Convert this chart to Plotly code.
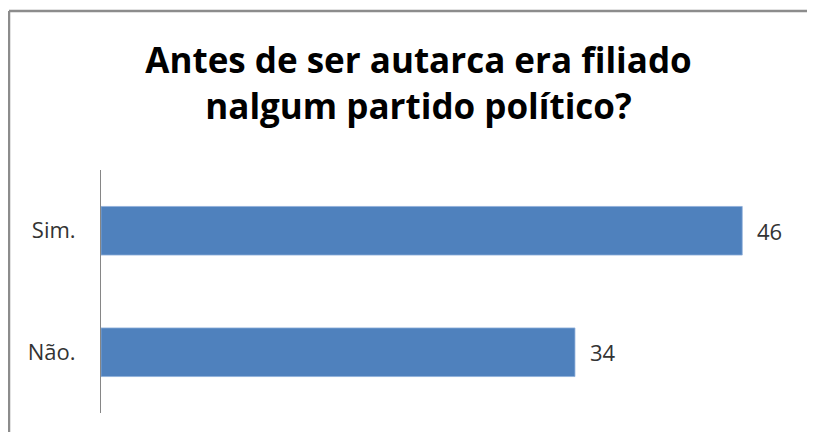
import plotly.graph_objects as go

# dados
categorias = ["Sim.", "Não."]
valores = [46, 34]
titulo = "Antes de ser autarca era filiado<br>nalgum partido político?"

# a página tem 8px de margem no <body>; a figura é reduzida para caber
W, H = 807, 424
ML, MR, MT, MB = 93, 17, 162, 19
PW, PH = W - ML - MR, H - MT - MB

fig = go.Figure()
fig.add_trace(
    go.Bar(
        x=valores,
        y=categorias,
        orientation="h",
        marker=dict(color="#4F81BD", line=dict(color="#8EAEDA", width=0.8)),
        hoverinfo="x+y",
    )
)

# rótulos de dados à direita das barras
for cat, val in zip(categorias, valores):
    fig.add_annotation(
        x=val, y=cat, text=str(val), showarrow=False,
        xanchor="left", xshift=13,
        font=dict(family="Open Sans", size=22, color="#333333"),
    )

# moldura (linha superior e esquerda, como no original)
topo = 1 + (MT - 3) / PH
esq = (1 - ML) / PW
fig.add_shape(
    type="line", xref="paper", yref="paper",
    x0=esq, x1=1 + MR / PW, y0=topo, y1=topo,
    line=dict(color="#8C8C8C", width=2.5),
)
fig.add_shape(
    type="line", xref="paper", yref="paper",
    x0=esq, x1=esq, y0=topo, y1=-MB / PH,
    line=dict(color="#8C8C8C", width=2.5),
)

fig.update_layout(
    width=W,
    height=H,
    margin=dict(l=ML, r=MR, t=MT, b=MB),
    paper_bgcolor="white",
    plot_bgcolor="white",
    bargap=0.6,
    showlegend=False,
    title=dict(
        text=titulo,
        x=410.5 / W,
        xanchor="center",
        xref="container",
        y=1 - 65 / H,
        yanchor="top",
        yref="container",
        font=dict(family="Open Sans", size=35, color="black", weight="bold"),
    ),
)
fig.update_xaxes(
    range=[0, 50], visible=False, showgrid=False, zeroline=False,
)
fig.update_yaxes(
    autorange="reversed",
    showline=True, linecolor="#868686", linewidth=1,
    ticks="", showgrid=False,
    ticklabelstandoff=20,
    tickfont=dict(family="Open Sans", size=22, color="#333333"),
)

fig.write_html("out.html")
